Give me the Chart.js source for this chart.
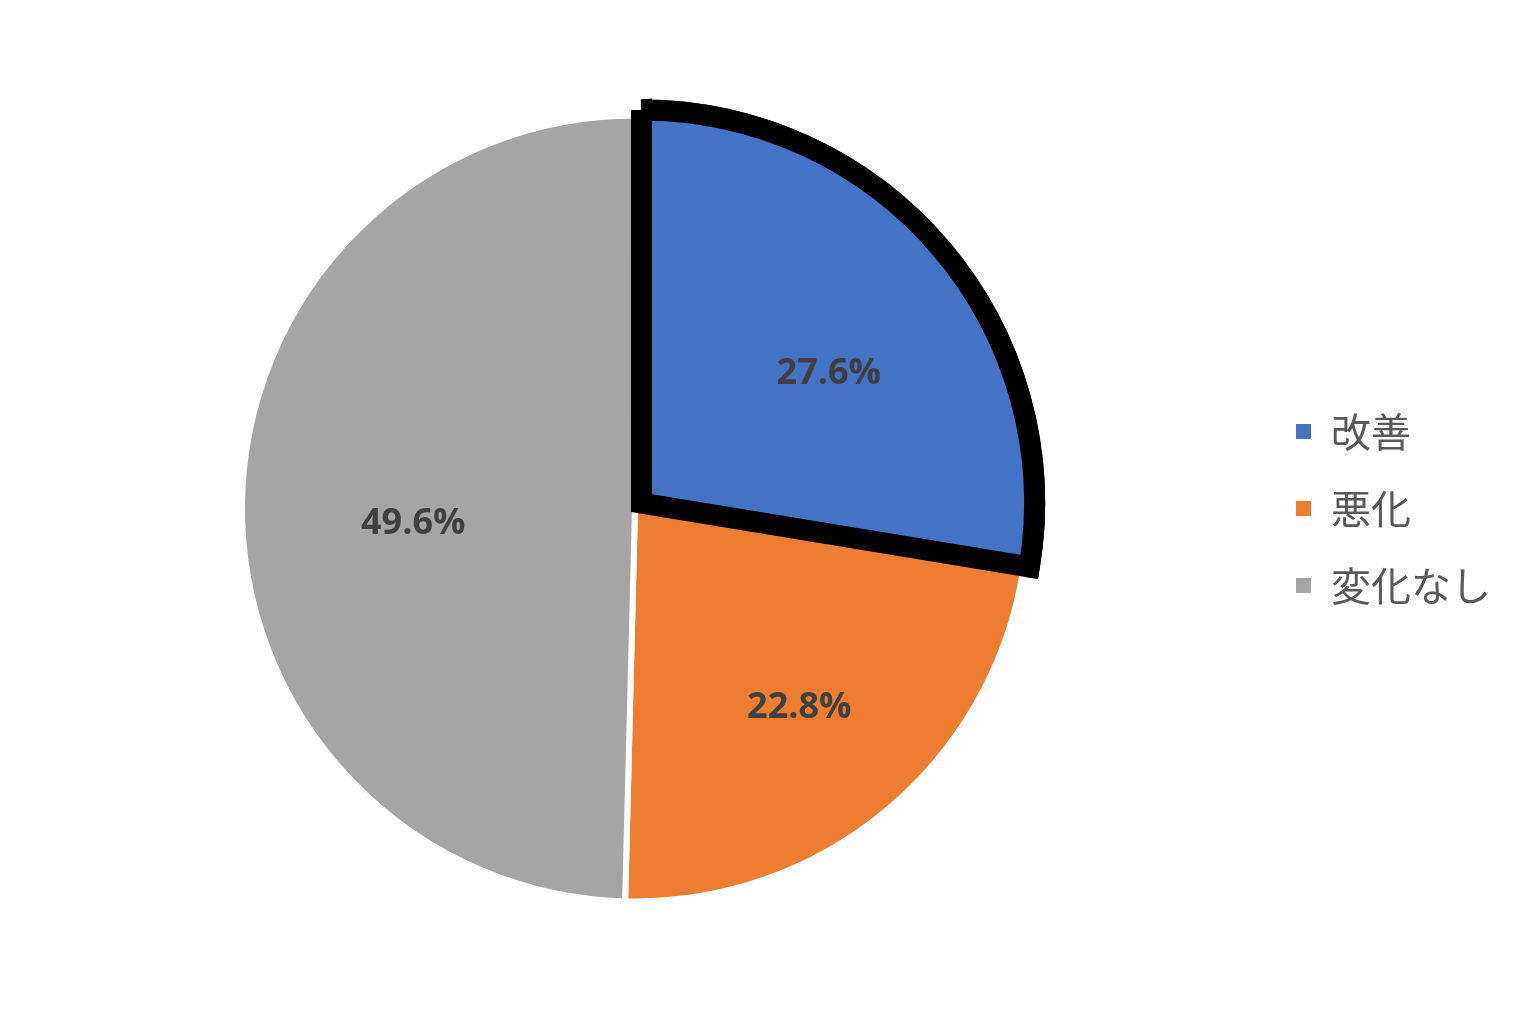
<!DOCTYPE html>
<html>
<head>
<meta charset="utf-8">
<script src="https://cdn.jsdelivr.net/npm/chart.js@4"></script>
<style>
  html, body { margin: 0; padding: 0; background: #fff; }
  #wrap { width: 1540px; height: 1018px; position: relative; }
</style>
</head>
<body>
<div id="wrap"><canvas id="pieChart"></canvas></div>
<script>
// data
const categories = ['改善', '悪化', '変化なし'];
const shares = [27.6, 22.8, 49.6];
const sliceColors = ['#4472C4', '#ED7D31', '#A5A5A5'];

// draws the percentage labels inside each slice, and puts the
// highlighted slice back on top so its black outline is not covered
const sliceLabels = {
    id: 'sliceLabels',
    afterDatasetsDraw(chart) {
        const ctx = chart.ctx;
        const meta = chart.getDatasetMeta(0);
        meta.data[0].draw(ctx);

        ctx.save();
        ctx.font = 'bold 36px "Open Sans", "Noto Sans", sans-serif';
        ctx.fillStyle = '#404040';
        ctx.textAlign = 'center';
        ctx.textBaseline = 'middle';
        meta.data.forEach((arc, i) => {
            const p = arc.getProps(['x', 'y', 'startAngle', 'endAngle', 'outerRadius'], true);
            const mid = (p.startAngle + p.endAngle) / 2;
            const r = p.outerRadius * 0.6;
            // Excel's label boxes sit a little right of and below the radial point
            ctx.fillText(shares[i].toFixed(1) + '%', p.x + Math.cos(mid) * r + 14, p.y + Math.sin(mid) * r + 18);
        });
        ctx.restore();
    },
};

const pieCtx = document.getElementById('pieChart').getContext('2d');
new Chart(pieCtx, {
    type: 'pie',
    data: {
        labels: categories,
        datasets: [{
            data: shares,
            backgroundColor: sliceColors,
            borderColor: ['#000000', '#FFFFFF', '#FFFFFF'],
            borderWidth: [21, 6, 6],
            hoverBorderWidth: [21, 6, 6],
            borderJoinStyle: ['miter', 'round', 'round'],
            offset: [34, 0, 0],
            hoverOffset: 0,
            radius: 393,
        }],
    },
    options: {
        responsive: true,
        maintainAspectRatio: false,
        animation: false,
        events: [],
        layout: {
            padding: { left: 11, right: 39, top: 98, bottom: 99 },
        },
        plugins: {
            tooltip: { enabled: false },
            legend: {
                position: 'right',
                labels: {
                    boxWidth: 15,
                    boxHeight: 15,
                    padding: 37,
                    color: '#595959',
                    font: { family: '"Noto Sans CJK JP", sans-serif', size: 40 },
                    generateLabels(chart) {
                        return categories.map((name, i) => ({
                            text: name,
                            fillStyle: sliceColors[i],
                            strokeStyle: sliceColors[i],
                            lineWidth: 0,
                            fontColor: '#595959',
                            hidden: false,
                            index: i,
                        }));
                    },
                },
            },
        },
    },
    plugins: [sliceLabels],
});
</script>
</body>
</html>
